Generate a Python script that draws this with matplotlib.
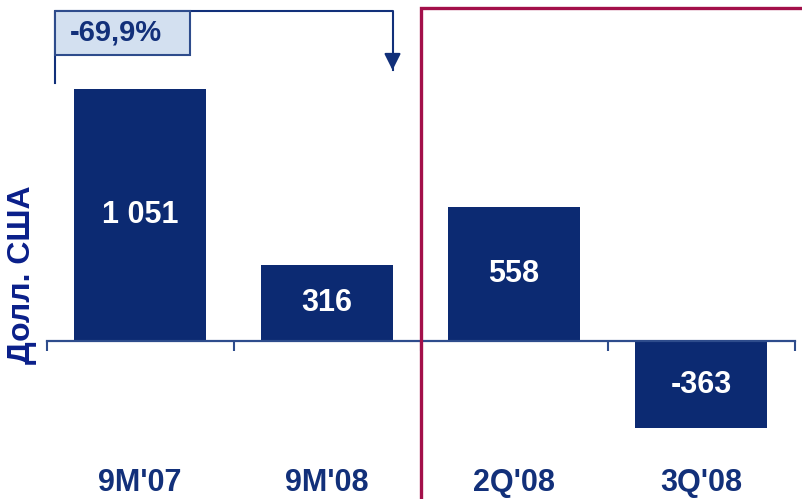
import matplotlib
matplotlib.use('Agg')
import matplotlib.pyplot as plt
from matplotlib.patches import Rectangle
import numpy as np

plt.rcParams['font.family'] = ['Liberation Sans', 'DejaVu Sans']
plt.rcParams['font.weight'] = 'bold'

categories = ["9M'07", "9M'08", "2Q'08", "3Q'08"]
values = [1051, 316, 558, -363]
value_labels = ['1 051', '316', '558', '-363']
change_label = '-69,9%'
ylabel = 'Долл. США'

navy = '#0C2A72'
text_navy = '#12307A'
box_blue = '#D3E0F0'
red = '#A3104A'

fig = plt.figure(figsize=(8.03, 4.99), dpi=100)
ax = fig.add_axes([0, 0, 1, 1])

x = np.arange(len(categories))
ax.bar(x, values, width=0.71, color=navy, zorder=2)

# limits chosen so the zero line and categories sit where the original has them
ax.set_xlim(-0.749, 3.545)
ax.set_ylim(-659, 1422)

for s in ['top', 'right', 'left']:
    ax.spines[s].set_visible(False)
ax.spines['bottom'].set_position(('data', 0))
ax.spines['bottom'].set_bounds(-0.5, len(categories) - 0.5)
ax.spines['bottom'].set_color('#2E4C8C')
ax.spines['bottom'].set_linewidth(1.6)
ax.spines['bottom'].set_zorder(3)
ax.set_xticks(np.arange(-0.5, len(categories), 1.0))
ax.set_xticklabels([])
ax.tick_params(axis='x', direction='out', length=7, width=1.5, color='#2E4C8C')
ax.set_yticks([])
ax.patch.set_alpha(0)

# values inside the bars
for xi, v, lab in zip(x, values, value_labels):
    ax.text(xi, v / 2, lab, ha='center', va='center', color='white',
            fontsize=22, fontweight='bold', zorder=4)

# category labels along the bottom
for xi, c in zip(x, categories):
    ax.text(xi, 0.032, c, transform=ax.get_xaxis_transform(), ha='center',
            va='center', color=text_navy, fontsize=22, fontweight='bold')

# y label
fig.text(0.028, 0.45, ylabel, rotation=90, ha='center', va='center',
         color='#0A1F8A', fontsize=23, fontweight='bold')

# red frame around the quarterly part
split = 1.5
ax.plot([split, split, 3.545], [-659, 1389, 1389], color=red, lw=2.4,
        solid_joinstyle='miter', clip_on=False, zorder=5)

# bracket with change between 9M'07 and 9M'08
left = x[0] - 0.455
right = x[1] + 0.35
top = 1378
ax.plot([left, left, right, right], [1076, top, top, 1130], color=text_navy,
        lw=1.5, zorder=3)
ax.annotate('', xy=(right, 1118), xytext=(right, 1200),
            arrowprops=dict(arrowstyle='-|>,head_length=1.0,head_width=0.5',
                            color=text_navy, lw=1.5))
ax.add_patch(Rectangle((left, 1193), 0.722, top - 1193, facecolor=box_blue,
                       edgecolor='#2E4C8C', lw=1.5, zorder=4))
ax.text(left + 0.08, 1286, change_label, ha='left', va='center',
        color=text_navy, fontsize=21, fontweight='bold', zorder=5)

fig.savefig('out.png', dpi=100)
